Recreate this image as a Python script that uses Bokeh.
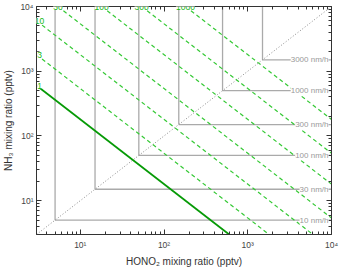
from bokeh.plotting import figure
from bokeh.models import (LogAxis, FixedTicker, CustomJSTickFormatter,
                          Label, Range1d)
from bokeh.embed import file_html
from bokeh.resources import INLINE

# ---------------- data ----------------
X_RANGE = (3, 1e4)          # HONO2 mixing ratio (pptv)
Y_RANGE = (3, 1e4)          # NH3 mixing ratio (pptv)
ISO_LABELS = ["1", "3", "10", "30", "100", "300", "1000"]
ISO_VALUES = [1, 3, 10, 30, 100, 300, 1000]
ISO_SCALE = 1800            # pptv^2 per unit of the isoline label
RATE_LABELS = ["10 nm/h", "30 nm/h", "100 nm/h", "300 nm/h", "1000 nm/h", "3000 nm/h"]
RATE_CORNERS = [5, 15, 50, 150, 500, 1500]
TICKS = [10, 100, 1000, 10000]
TICK_LABELS = ["10¹", "10²", "10³", "10⁴"]
X_TITLE = "HONO₂ mixing ratio (pptv)"
Y_TITLE = "NH₃ mixing ratio (pptv)"

FONT = "Liberation Sans"
GREEN_D = "#36c936"
GREEN_S = "#069a06"
GREEN_T = "#14b814"
GRAY = "#aaaaaa"
AX = "#333333"

xmin, xmax = X_RANGE
ymin, ymax = Y_RANGE

p = figure(width=339, height=269, x_axis_type="log", y_axis_type="log",
           x_range=Range1d(xmin, xmax), y_range=Range1d(ymin, ymax),
           output_backend="svg", toolbar_location=None,
           min_border_left=34, min_border_right=8, min_border_top=6,
           min_border_bottom=34)
p.grid.visible = False
p.outline_line_color = None
p.background_fill_color = "white"
p.border_fill_color = "white"

minor = [k * 10 ** d for d in range(0, 4) for k in range(2, 10)
         if xmin <= k * 10 ** d <= xmax]

fmt = CustomJSTickFormatter(args=dict(tvals=TICKS, tlabs=TICK_LABELS),
                            code="const i = tvals.indexOf(tick); return i >= 0 ? tlabs[i] : '';")
blank = CustomJSTickFormatter(code="return '';")


def style_axis(ax, labelled=True):
    ax.ticker = FixedTicker(ticks=TICKS, minor_ticks=minor)
    ax.major_tick_in = 5
    ax.major_tick_out = 0
    ax.minor_tick_in = 3
    ax.minor_tick_out = 0
    ax.axis_line_color = AX
    ax.major_tick_line_color = AX
    ax.minor_tick_line_color = AX
    if labelled:
        ax.formatter = fmt
        ax.major_label_text_font = FONT
        ax.major_label_text_font_size = "8.5px"
        ax.major_label_text_color = "#444444"
        ax.major_label_standoff = 5
        ax.axis_label_text_font = FONT
        ax.axis_label_text_font_size = "10px"
        ax.axis_label_text_font_style = "normal"
        ax.axis_label_text_color = AX
        ax.axis_label_standoff = 3
    else:
        ax.formatter = blank
        ax.major_label_text_font_size = "0px"
        ax.major_label_standoff = 0


style_axis(p.xaxis[0])
style_axis(p.yaxis[0])
p.xaxis[0].axis_label = X_TITLE
p.yaxis[0].axis_label = Y_TITLE
p.yaxis[0].major_label_standoff = 3

top_ax = LogAxis()
right_ax = LogAxis()
style_axis(top_ax, labelled=False)
style_axis(right_ax, labelled=False)
p.add_layout(top_ax, "above")
p.add_layout(right_ax, "right")

# gray "production rate" staircase lines (min of the two mixing ratios)
p.segment(x0=RATE_CORNERS, y0=RATE_CORNERS, x1=RATE_CORNERS,
          y1=[ymax] * len(RATE_CORNERS), line_color=GRAY, line_width=1.3)
p.segment(x0=RATE_CORNERS, y0=RATE_CORNERS, x1=[xmax] * len(RATE_CORNERS),
          y1=RATE_CORNERS, line_color=GRAY, line_width=1.3)

# 1:1 diagonal
d0 = max(xmin, ymin)
d1 = min(xmax, ymax)
p.line([d0, d1], [d0, d1], line_color="#8a8a8a", line_dash="1 2", line_width=1)

# isolines x*y = const
xs, ys = [], []
for lab, L in zip(ISO_LABELS, ISO_VALUES):
    P = ISO_SCALE * L
    x0 = max(xmin, P / ymax)
    x1 = min(xmax, P / ymin)
    if L == 1:
        p.line([x0, x1], [P / x0, P / x1], line_color=GREEN_S, line_width=1.8)
    else:
        xs.append([x0, x1])
        ys.append([P / x0, P / x1])
    if P / xmin <= ymax:
        lx, ly, xo = xmin, P / xmin, 3
    else:
        lx, ly, xo = P / ymax, ymax, 0
    p.add_layout(Label(x=lx, y=ly, x_offset=xo, text=lab, text_color=GREEN_T,
                       text_font=FONT, text_font_size="8.5px", text_align="center",
                       text_baseline="middle", background_fill_color="white",
                       level="overlay"))

p.multi_line(xs, ys, line_color=GREEN_D, line_dash="4 3", line_width=1.2)

for lab, c in zip(RATE_LABELS, RATE_CORNERS):
    p.add_layout(Label(x=xmax, y=c, x_offset=-3, text=lab, text_color="#999999",
                       text_font=FONT, text_font_size="8px", text_align="right",
                       text_baseline="middle", background_fill_color="white",
                       level="overlay"))

open("out.html", "w").write(file_html(p, INLINE))
